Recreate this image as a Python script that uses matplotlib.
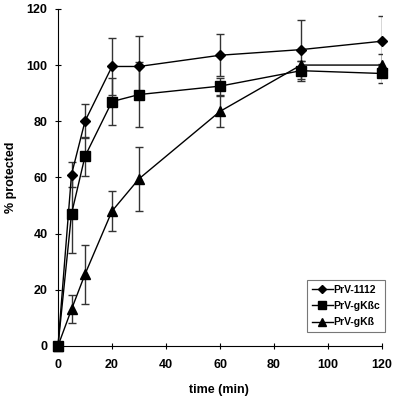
import matplotlib
matplotlib.use("Agg")
import matplotlib.pyplot as plt
from matplotlib.lines import Line2D

plt.rcParams['font.family'] = ['Liberation Sans', 'DejaVu Sans']
plt.rcParams['font.weight'] = 'bold'

# data
t = [0, 5, 10, 20, 30, 60, 90, 120]

prv1112 = [0, 61, 80, 99.5, 99.5, 103.5, 105.5, 108.5]
prv1112_err = [0, 4.5, 6, 10, 11, 7.5, 10.5, 9]

gkbc = [0, 47, 67.5, 87, 89.5, 92.5, 98, 97]
gkbc_err = [0, 14, 7, 8.5, 11.5, 3, 3.5, 3.5]

gkb = [0, 13, 25.5, 48, 59.5, 83.5, 100, 100]
gkb_err = [0, 5, 10.5, 7, 11.5, 5.5, 1.5, 4]

labels = ['PrV-1112', 'PrV-gKßc', 'PrV-gKß']

fig = plt.figure(figsize=(4, 4.05), dpi=100)
ax = fig.add_axes([0.145, 0.146, 0.81, 0.832])

series = [(prv1112, prv1112_err, 'D', 5), (gkbc, gkbc_err, 's', 6.5), (gkb, gkb_err, '^', 6.5)]
handles = []
for y, e, m, ms in series:
    eb = ax.errorbar(t, y, yerr=e, color='black', ecolor='#333333', elinewidth=1,
                     capsize=3, capthick=1, marker=m, markersize=ms, linewidth=1)
    eb.lines[0].set_clip_on(False)
    handles.append(Line2D([], [], color='black', marker=m, markersize=ms - 0.5, linewidth=1))

ax.set_xlim(0, 120)
ax.set_ylim(0, 120)
ax.set_xticks(range(0, 121, 20))
ax.set_yticks(range(0, 121, 20))
ax.spines['top'].set_visible(False)
ax.spines['right'].set_visible(False)
ax.tick_params(direction='inout', length=5, width=0.8, labelsize=9)
ax.tick_params(axis='y', pad=5)
ax.tick_params(axis='x', pad=7)
for lbl in ax.get_xticklabels() + ax.get_yticklabels():
    lbl.set_fontweight('bold')

ax.set_xlabel('time (min)', fontsize=9, fontweight='bold')
ax.set_ylabel('% protected', fontsize=9, fontweight='bold')
ax.xaxis.set_label_coords(0.498, -0.114)
ax.yaxis.set_label_coords(-0.125, 0.5)

leg = fig.legend(handles, labels, loc='upper left', bbox_to_anchor=(307 / 400, 1 - 280 / 405),
                 fontsize=7.5, frameon=True, fancybox=False, handlelength=2.0,
                 handletextpad=0.1, borderpad=0.45, labelspacing=0.6,
                 borderaxespad=0, edgecolor='#555555')
leg.get_frame().set_linewidth(0.8)
for txt in leg.get_texts():
    txt.set_fontweight('bold')

fig.savefig('out.png', dpi=100)
